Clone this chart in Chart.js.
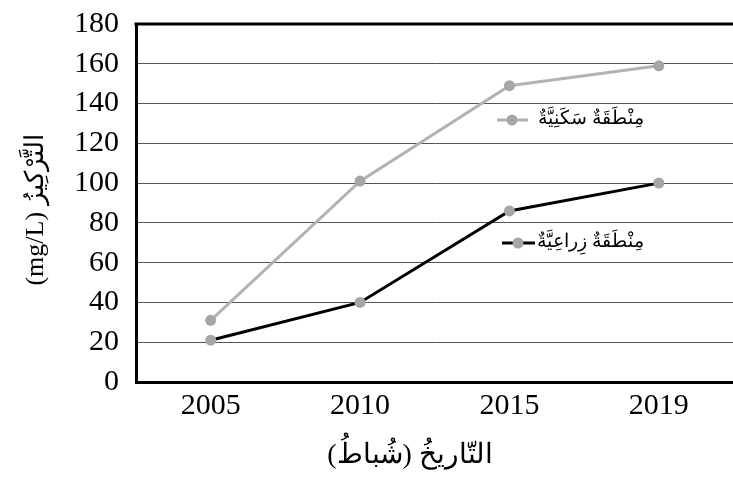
<!DOCTYPE html>
<html lang="ar">
<head>
<meta charset="UTF-8" />
<title>التركيز</title>
<script src="https://cdn.jsdelivr.net/npm/chart.js"></script>
<style>
  html, body { margin: 0; padding: 0; background: #fff; overflow: hidden; }
  /* a few px wider than the window: the plot runs off the right edge like the original */
  #wrap { width: 739px; height: 487px; }
</style>
</head>
<body>
<div id="wrap"><canvas id="chart"></canvas></div>
<script>
// data
const years = ['2005', '2010', '2015', '2019'];
const residential = [31, 101, 149, 159];
const agricultural = [21, 40, 86, 100];
const seriesNames = ['مِنْطَقَةٌ سَكَنِيَّةٌ', 'مِنْطَقَةٌ زِراعِيَّةٌ'];
const yTitle = '(mg/L) التَّرْكِيزُ';
const xTitle = 'التّاريخُ (شُباطُ)';

const serif = '"Liberation Serif", "DejaVu Serif", serif';
const grey = '#b3b3b3';
const dot = '#a6a6a6';

// top border, axis titles and the labels next to the lines
const extras = {
  id: 'extras',
  afterDraw(chart) {
    const { ctx, chartArea: a } = chart;
    ctx.save();
    ctx.strokeStyle = '#000';
    ctx.lineWidth = 3;
    ctx.beginPath();
    ctx.moveTo(a.left - 1.5, a.top);
    ctx.lineTo(a.right, a.top);
    ctx.stroke();

    const entries = [
      { y: 120, x1: 497, x2: 528, dx: 512, color: grey, text: seriesNames[0] },
      { y: 243, x1: 502, x2: 535, dx: 518, color: '#000', text: seriesNames[1] }
    ];
    entries.forEach(e => {
      ctx.strokeStyle = e.color;
      ctx.lineWidth = 3;
      ctx.beginPath();
      ctx.moveTo(e.x1, e.y);
      ctx.lineTo(e.x2, e.y);
      ctx.stroke();
      ctx.fillStyle = dot;
      ctx.beginPath();
      ctx.arc(e.dx, e.y, 5.5, 0, Math.PI * 2);
      ctx.fill();
      ctx.fillStyle = '#000';
      ctx.font = '19px ' + serif;
      ctx.textBaseline = 'middle';
      ctx.direction = 'rtl';
      ctx.textAlign = 'right';
      ctx.fillText(e.text, 644, e.y - 1);
    });

    ctx.direction = 'ltr';
    ctx.fillStyle = '#000';
    ctx.textAlign = 'center';
    ctx.textBaseline = 'middle';
    ctx.font = '28px ' + serif;
    ctx.fillText(xTitle, 410, 456);

    ctx.translate(36, 210);
    ctx.rotate(-Math.PI / 2);
    ctx.font = '26px ' + serif;
    ctx.fillText(yTitle, 0, 0);
    ctx.restore();
  }
};

new Chart(document.getElementById('chart'), {
  type: 'line',
  data: {
    labels: years,
    datasets: [
      {
        label: seriesNames[0],
        data: residential,
        borderColor: grey,
        borderWidth: 3,
        pointBackgroundColor: dot,
        pointBorderWidth: 0,
        pointRadius: 5.5,
        tension: 0
      },
      {
        label: seriesNames[1],
        data: agricultural,
        borderColor: '#000',
        borderWidth: 3,
        pointBackgroundColor: dot,
        pointBorderWidth: 0,
        pointRadius: 5.5,
        tension: 0
      }
    ]
  },
  options: {
    responsive: true,
    maintainAspectRatio: false,
    animation: false,
    layout: { padding: { top: 24, right: 0, left: 0, bottom: 0 } },
    plugins: {
      legend: { display: false },
      tooltip: { enabled: false }
    },
    scales: {
      x: {
        offset: true,
        afterFit(s) { s.height = 105; },
        grid: { display: false, drawTicks: true, tickLength: 6 },
        border: { display: true, color: '#000', width: 3 },
        ticks: { color: '#000', font: { family: serif, size: 30 }, padding: 0 }
      },
      y: {
        min: 0,
        max: 180,
        afterFit(s) { s.width = 136; },
        grid: { color: '#555', lineWidth: 1, drawTicks: true, tickLength: 17, tickColor: 'rgba(0,0,0,0)' },
        border: { display: true, color: '#000', width: 3 },
        ticks: { stepSize: 20, autoSkip: false, color: '#000', font: { family: serif, size: 30 }, padding: 0 }
      }
    }
  },
  plugins: [extras]
});
</script>
</body>
</html>
